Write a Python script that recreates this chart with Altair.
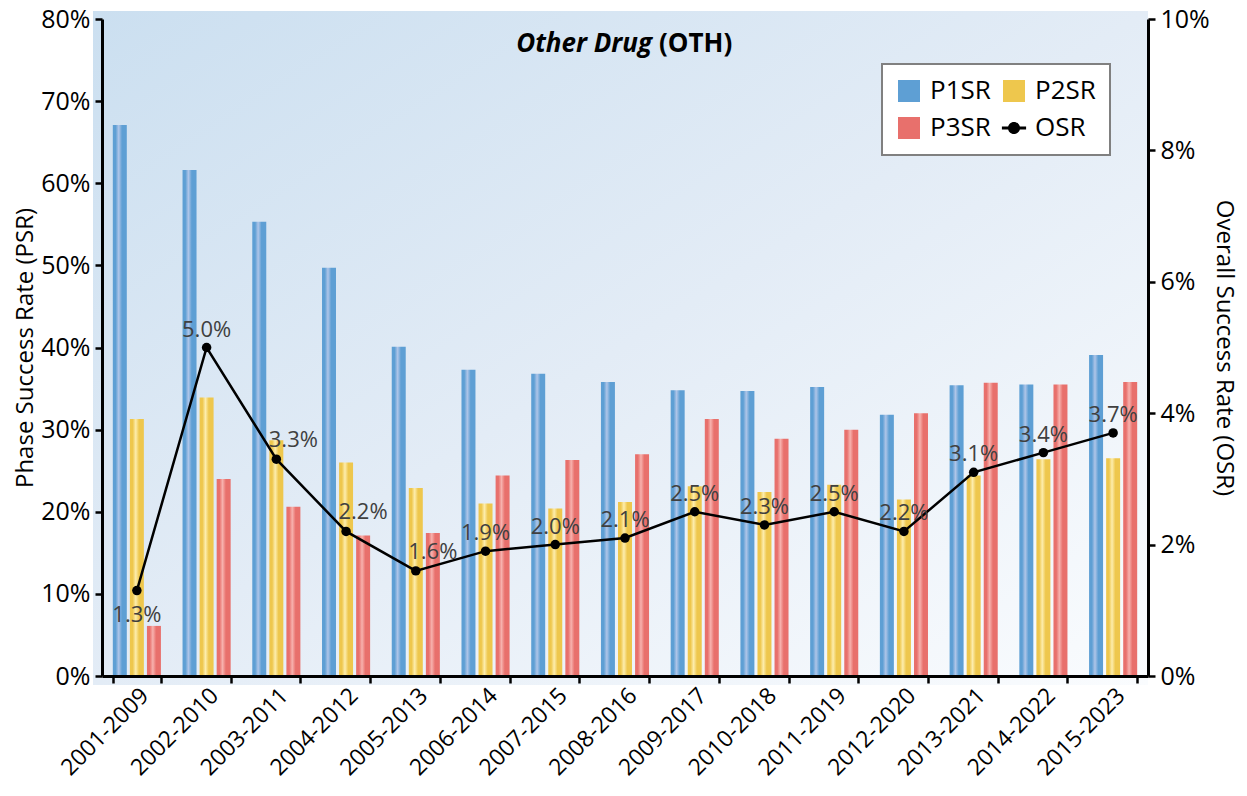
import altair as alt
import pandas as pd

# ---------------- data ----------------
periods = ["2001-2009", "2002-2010", "2003-2011", "2004-2012", "2005-2013",
           "2006-2014", "2007-2015", "2008-2016", "2009-2017", "2010-2018",
           "2011-2019", "2012-2020", "2013-2021", "2014-2022", "2015-2023"]
p1sr = [67.1, 61.6, 55.3, 49.7, 40.1, 37.3, 36.8, 35.8, 34.8, 34.7, 35.2, 31.8, 35.4, 35.5, 39.1]
p2sr = [31.3, 33.9, 28.7, 26.0, 22.9, 21.0, 20.4, 21.2, 23.1, 22.4, 23.3, 21.5, 24.4, 26.4, 26.5]
p3sr = [6.1, 24.0, 20.6, 17.1, 17.4, 24.4, 26.3, 27.0, 31.3, 28.9, 30.0, 32.0, 35.7, 35.5, 35.8]
osr = [1.3, 5.0, 3.3, 2.2, 1.6, 1.9, 2.0, 2.1, 2.5, 2.3, 2.5, 2.2, 3.1, 3.4, 3.7]

series_names = ["P1SR", "P2SR", "P3SR", "OSR"]
series_colors = ["#5E9FD4", "#EEC74D", "#E8706C", "#000000"]
series_light = ["#AFC5E8", "#FDEDAD", "#F7B2AE"]
left_ticks = [0, 10, 20, 30, 40, 50, 60, 70, 80]
right_ticks = [0, 2, 4, 6, 8, 10]
labels_shifted = ["2003-2011", "2004-2012", "2005-2013"]
labels_below = ["2001-2009"]

W, H = 1046, 657
FONT = "Open Sans"

df = pd.DataFrame({"period": periods, "P1SR": p1sr, "P2SR": p2sr, "P3SR": p3sr, "OSR": osr})
legend_df = pd.DataFrame({"series": series_names})

base = alt.Chart(df)
one = alt.Data(values=[{}])

# ---------------- background ----------------
bg_grad = alt.LinearGradient(
    gradient="linear", x1=0, y1=0, x2=1, y2=1,
    stops=[alt.GradientStop(color="#cbdff0", offset=0),
           alt.GradientStop(color="#e3ecf6", offset=0.5),
           alt.GradientStop(color="#fafcfe", offset=1)])
bg = alt.Chart(one).mark_rect(fill=bg_grad).encode(
    x=alt.value(-9), x2=alt.value(W), y=alt.value(-8), y2=alt.value(H + 9))

# ---------------- shared encodings ----------------
x_axis = alt.Axis(title=None, labelAngle=-45, labelFont=FONT, labelFontSize=23,
                  labelColor="black", tickBand="extent", tickSize=7, tickWidth=2.5,
                  tickColor="black", domainColor="black", domainWidth=3, labelPadding=1,
                  zindex=2)
x_enc = alt.X("period:N", sort=periods,
              scale=alt.Scale(paddingInner=0.31, paddingOuter=0.155), axis=x_axis)

left_axis = alt.Axis(values=left_ticks, labelExpr="datum.value + '%'",
                     title="Phase Success Rate (PSR)", titleFont=FONT, titleFontSize=24,
                     titleFontWeight="normal", titleColor="black", titlePadding=3,
                     labelFont=FONT, labelFontSize=25, labelColor="black", labelPadding=5,
                     tickSize=7, tickWidth=2.5, tickColor="black",
                     domainColor="black", domainWidth=3, grid=False, zindex=2)
y_bar = alt.Y("value:Q", scale=alt.Scale(domain=[0, 80]), axis=left_axis)

right_axis = alt.Axis(orient="right", values=right_ticks, labelExpr="datum.value + '%'",
                      title="Overall Success Rate (OSR)", titleFont=FONT, titleFontSize=24,
                      titleFontWeight="normal", titleColor="black", titlePadding=2,
                      labelFont=FONT, labelFontSize=25, labelColor="black", labelPadding=5,
                      tickSize=7, tickWidth=2.5, tickColor="black",
                      domainColor="black", domainWidth=3, grid=False, zindex=2)
y_osr = alt.Y("OSR:Q", scale=alt.Scale(domain=[0, 10]), axis=right_axis)

xoff = alt.XOffset("series:N", scale=alt.Scale(domain=series_names[:3], paddingInner=0.18, paddingOuter=0))

# ---------------- bars (one layer per series, cylindrical gradient) ----------------
folded = base.transform_fold(["P1SR", "P2SR", "P3SR"], as_=["series", "value"])
bar_layers = []
for name, col, light in zip(series_names[:3], series_colors[:3], series_light):
    grad = alt.LinearGradient(
        gradient="linear", x1=0, y1=0, x2=1, y2=0,
        stops=[alt.GradientStop(color=col, offset=0),
               alt.GradientStop(color=col, offset=0.2),
               alt.GradientStop(color=light, offset=0.42),
               alt.GradientStop(color=col, offset=0.66),
               alt.GradientStop(color=col, offset=1)])
    bar_layers.append(
        folded.transform_filter(alt.datum.series == name)
        .mark_bar(fill=grad)
        .encode(x=x_enc, xOffset=xoff, y=y_bar)
    )
bar_layer = alt.layer(*bar_layers)

# ---------------- OSR line ----------------
line = base.mark_line(color="black", strokeWidth=2.5).encode(x=x_enc, y=y_osr)
pts = base.mark_circle(color="black", size=90, opacity=1).encode(x=x_enc, y=y_osr)

lbl_base = base.transform_calculate(lbl="format(datum.OSR, '.1f') + '%'")
txt_kw = dict(font=FONT, fontSize=22, color="#404040", baseline="alphabetic", align="center")
lbl_normal = lbl_base.transform_filter(
    {"not": alt.FieldOneOfPredicate(field="period", oneOf=labels_shifted + labels_below)}
).mark_text(dy=-11, **txt_kw).encode(x=x_enc, y=y_osr, text="lbl:N")
lbl_shift = lbl_base.transform_filter(
    alt.FieldOneOfPredicate(field="period", oneOf=labels_shifted)
).mark_text(dy=-12, dx=17, **txt_kw).encode(x=x_enc, y=y_osr, text="lbl:N")
lbl_below = lbl_base.transform_filter(
    alt.FieldOneOfPredicate(field="period", oneOf=labels_below)
).mark_text(dy=31, **txt_kw).encode(x=x_enc, y=y_osr, text="lbl:N")

osr_layer = alt.layer(line, pts, lbl_normal, lbl_shift, lbl_below)

# ---------------- legend carrier ----------------
osr_symbol = ("M-1.1,-0.13L1.1,-0.13L1.1,0.13L-1.1,0.13Z "
              "M0,-0.55A0.55,0.55 0 1,1 0,0.55A0.55,0.55 0 1,1 0,-0.55Z")
leg = alt.Legend(title=None, orient="none", legendX=780, legendY=45, columns=2,
                 direction="horizontal",
                 fillColor="white", strokeColor="#808080", padding=14,
                 symbolSize=484, symbolOpacity=1, symbolStrokeWidth=0,
                 labelFont=FONT, labelFontSize=26, labelColor="black", labelOffset=8,
                 columnPadding=10, rowPadding=11)
carrier = alt.Chart(legend_df).mark_point(filled=True, opacity=0).encode(
    color=alt.Color("series:N", scale=alt.Scale(domain=series_names, range=series_colors),
                    legend=leg),
    shape=alt.Shape("series:N",
                    scale=alt.Scale(domain=series_names,
                                    range=["square", "square", "square", osr_symbol]),
                    legend=leg))

# ---------------- title ----------------
t1 = alt.Chart(one).mark_text(text="Other Drug", font=FONT, fontSize=26, fontStyle="italic",
                              fontWeight="bold", align="right", baseline="alphabetic",
                              color="black").encode(x=alt.value(550), y=alt.value(33))
t2 = alt.Chart(one).mark_text(text="(OTH)", font=FONT, fontSize=26, fontWeight="bold",
                              align="left", baseline="alphabetic",
                              color="black").encode(x=alt.value(557), y=alt.value(33))

chart = alt.layer(bg, bar_layer, osr_layer, carrier, t1, t2).resolve_scale(
    y="independent"
).properties(
    width=W, height=H,
    autosize=alt.AutoSizeParams(type="none"),
    padding={"left": 94, "top": 11, "right": 91, "bottom": 108},
    background="white",
).configure_view(stroke=None).configure_legend(strokeWidth=2)

chart.save("out.html", embed_options={"renderer": "svg", "actions": False})
